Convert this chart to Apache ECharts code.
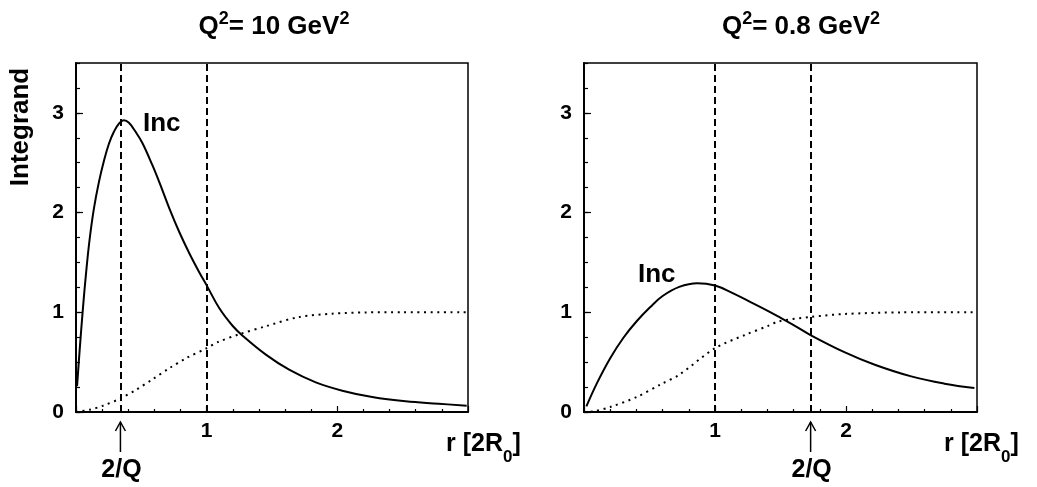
<!DOCTYPE html>
<html>
<head>
<meta charset="utf-8">
<script src="https://cdn.jsdelivr.net/npm/echarts@6/dist/echarts.min.js"></script>
<style>
html,body{margin:0;padding:0;background:#fff;}
#c{width:1037px;height:487px;}
</style>
</head>
<body>
<div id="c"></div>
<script>
// ---- data ----
const xTickLabels = ['1', '2'];
const yTickLabels = ['0', '1', '2', '3'];
const panelTitles = [['10'], ['0.8']];

// Left panel Q^2 = 10 GeV^2
const incQ10_r = [0.008, 0.028, 0.053, 0.079, 0.105, 0.137, 0.176, 0.214, 0.252, 0.29, 0.33, 0.366, 0.405, 0.456, 0.507, 0.583, 0.639, 0.715, 0.792, 0.868, 0.944, 1.0, 1.097, 1.198, 1.275, 1.453, 1.631, 1.835, 2.038, 2.267, 2.522, 2.776, 2.99];
const incQ10   = [0.26, 0.62, 1.04, 1.42, 1.74, 2.04, 2.31, 2.52, 2.69, 2.81, 2.895, 2.925, 2.90, 2.81, 2.70, 2.48, 2.30, 2.04, 1.80, 1.59, 1.40, 1.27, 1.04, 0.865, 0.765, 0.575, 0.424, 0.297, 0.214, 0.15, 0.107, 0.083, 0.063];
const dotQ10_r = [0.0, 0.105, 0.206, 0.347, 0.461, 0.588, 0.715, 0.843, 1.0, 1.084, 1.25, 1.453, 1.707, 1.962, 2.217, 2.5, 3.0];
const dotQ10   = [0.0, 0.023, 0.063, 0.14, 0.224, 0.33, 0.44, 0.54, 0.64, 0.70, 0.78, 0.86, 0.953, 0.986, 0.999, 1.0, 1.0];
const dashQ10  = [0.34, 1.0];
const twoOverQ10 = 0.34;

// Right panel Q^2 = 0.8 GeV^2
const incQ08_r = [0.018, 0.099, 0.2, 0.301, 0.402, 0.504, 0.6, 0.727, 0.866, 1.0, 1.131, 1.283, 1.41, 1.486, 1.587, 1.729, 1.992, 2.22, 2.498, 2.752, 2.98];
const incQ08   = [0.056, 0.29, 0.54, 0.745, 0.91, 1.05, 1.163, 1.255, 1.292, 1.268, 1.195, 1.095, 1.01, 0.956, 0.882, 0.772, 0.598, 0.474, 0.357, 0.284, 0.24];
const dotQ08_r = [0.0, 0.076, 0.2, 0.402, 0.59, 0.727, 1.0, 1.233, 1.41, 1.486, 1.729, 1.99, 2.42, 3.0];
const dotQ08   = [0.0, 0.006, 0.05, 0.15, 0.28, 0.374, 0.64, 0.775, 0.866, 0.909, 0.953, 0.983, 0.999, 1.0];
const dashQ08  = [1.0, 1.73];
const twoOverQ08 = 1.73;

const X_MIN = 0, X_MAX = 3, Y_MIN = 0, Y_MAX = 3.5;

// ---- chart ----
const FONT = '"Liberation Sans", Arial, Helvetica, sans-serif';
const chart = echarts.init(document.getElementById('c'), null, {renderer: 'canvas'});
const zip = (a, b) => a.map((v, i) => [v, b[i]]);

const grids = [
  {left: 76, top: 63, width: 392, height: 349},
  {left: 584, top: 63, width: 393, height: 349}
];

function xAxisFor(g) {
  return {
    type: 'value', gridIndex: g, min: X_MIN, max: X_MAX, interval: 1,
    axisLine: {show: true, onZero: false, lineStyle: {color: '#000', width: 2}},
    axisTick: {show: true, inside: true, length: 6, lineStyle: {color: '#000', width: 1.2}},
    minorTick: {show: true, splitNumber: 5, length: 3, lineStyle: {color: '#000', width: 1.2}},
    axisLabel: {
      show: true, margin: 9, color: '#000', fontSize: 21, fontWeight: 'bold', fontFamily: FONT,
      formatter: v => { const s = String(Math.round(v)); return (Math.abs(v - Math.round(v)) < 1e-6 && xTickLabels.includes(s)) ? s : ''; }
    },
    splitLine: {show: false}, minorSplitLine: {show: false}
  };
}
function yMajor(g) {
  return {
    type: 'value', gridIndex: g, min: Y_MIN, max: Y_MAX, interval: 1, position: 'left',
    axisLine: {show: true, onZero: false, lineStyle: {color: '#000', width: 2}},
    axisTick: {show: true, inside: true, length: 7, lineStyle: {color: '#000', width: 1.2}},
    axisLabel: {
      show: true, margin: 12, color: '#000', fontSize: 21, fontWeight: 'bold', fontFamily: FONT,
      showMaxLabel: false,
      formatter: v => { const s = String(Math.round(v)); return (Math.abs(v - Math.round(v)) < 1e-6 && yTickLabels.includes(s)) ? s : ''; }
    },
    splitLine: {show: false}
  };
}
function yMinor(g) {
  return {
    type: 'value', gridIndex: g, min: Y_MIN, max: Y_MAX, interval: 0.25, position: 'left', offset: 0,
    axisLine: {show: false},
    axisTick: {show: true, inside: true, length: 4, lineStyle: {color: '#000', width: 1.2}},
    axisLabel: {show: false},
    splitLine: {show: false}
  };
}

function dashedMark(xs) {
  return {
    silent: true, symbol: ['none', 'none'], animation: false,
    label: {show: false},
    lineStyle: {color: '#000', type: [7, 4], width: 2},
    data: xs.map(x => ({xAxis: x}))
  };
}

const solidStyle = {color: '#000', width: 2};
const dotStyle = {color: '#000', width: 2, type: [2, 4.6]};

chart.setOption({
  animation: false,
  backgroundColor: '#fff',
  grid: grids.map(g => Object.assign({show: true, borderColor: '#000', borderWidth: 1.5, backgroundColor: 'transparent'}, g)),
  xAxis: [xAxisFor(0), xAxisFor(1)],
  yAxis: [yMajor(0), yMinor(0), yMajor(1), yMinor(1)],
  series: [
    {type: 'line', xAxisIndex: 0, yAxisIndex: 0, data: zip(incQ10_r, incQ10), showSymbol: false, smooth: 0.4, lineStyle: solidStyle, markLine: dashedMark(dashQ10)},
    {type: 'line', xAxisIndex: 0, yAxisIndex: 0, data: zip(dotQ10_r, dotQ10), showSymbol: false, smooth: 0.3, lineStyle: dotStyle},
    {type: 'line', xAxisIndex: 1, yAxisIndex: 2, data: zip(incQ08_r, incQ08), showSymbol: false, smooth: 0.4, lineStyle: solidStyle, markLine: dashedMark(dashQ08)},
    {type: 'line', xAxisIndex: 1, yAxisIndex: 2, data: zip(dotQ08_r, dotQ08), showSymbol: false, smooth: 0.3, lineStyle: dotStyle}
  ]
});

// ---- annotations (text labels and 2/Q arrows) ----
const bold = (size) => ({fontSize: size, fontWeight: 'bold', fontFamily: FONT, fill: '#000'});
function titleText(cx, val) {
  return {
    type: 'text', x: cx, y: 25, silent: true,
    style: {
      text: '{m|Q}{s|2}{m|= ' + val + ' GeV}{s|2}', align: 'center', verticalAlign: 'middle',
      rich: {
        m: Object.assign(bold(26), {lineHeight: 30, verticalAlign: 'bottom'}),
        s: Object.assign(bold(18), {lineHeight: 30, verticalAlign: 'top', padding: [0, 0, 0, 0]})
      }
    }
  };
}
function rLabel(x) {
  return {
    type: 'text', x: x, y: 446, silent: true,
    style: {
      text: '{m|r [2R}{b|0}{m|]}', align: 'left', verticalAlign: 'middle',
      rich: {
        m: Object.assign(bold(25), {lineHeight: 28, verticalAlign: 'top'}),
        b: Object.assign(bold(17), {lineHeight: 28, verticalAlign: 'bottom', padding: [0, 0, -6, 0]})
      }
    }
  };
}
function arrow(gridIdx, xVal) {
  const px = chart.convertToPixel({xAxisIndex: gridIdx}, xVal);
  return [
    {type: 'line', silent: true, shape: {x1: px, y1: 452, x2: px, y2: 422}, style: {stroke: '#000', lineWidth: 1.5}},
    {type: 'polyline', silent: true, shape: {points: [[px - 5, 431], [px, 422], [px + 5, 431]]}, style: {stroke: '#000', lineWidth: 1.5, fill: null}},
    {type: 'text', silent: true, x: px + 1, y: 470, style: Object.assign(bold(25), {text: '2/Q', align: 'center', verticalAlign: 'middle'})}
  ];
}

chart.setOption({
  graphic: [].concat(
    [titleText(274, panelTitles[0][0]), titleText(801, panelTitles[1][0])],
    [{type: 'text', silent: true, x: 21, y: 127, rotation: Math.PI / 2, style: Object.assign(bold(26), {text: 'Integrand', align: 'center', verticalAlign: 'middle'})}],
    [rLabel(446), rLabel(944)],
    [{type: 'text', silent: true, x: 143, y: 124, style: Object.assign(bold(26), {text: 'Inc', align: 'left', verticalAlign: 'middle'})},
     {type: 'text', silent: true, x: 638, y: 275, style: Object.assign(bold(26), {text: 'Inc', align: 'left', verticalAlign: 'middle'})}],
    arrow(0, twoOverQ10),
    arrow(1, twoOverQ08)
  )
});
</script>
</body>
</html>
